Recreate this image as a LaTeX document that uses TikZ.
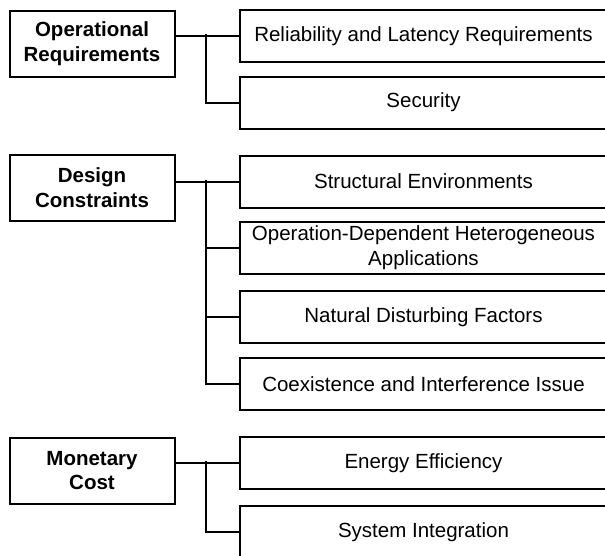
\documentclass[tikz,border=0pt]{standalone}
\usepackage{fontspec}
\setmainfont{Liberation Sans}
\begin{document}
\begin{tikzpicture}[x=1pt,y=-1pt,
  catbox/.style={draw=black,line width=2pt,minimum width=165pt,minimum height=66pt,inner sep=0pt,align=center,
    font=\fontsize{20.5}{24.5}\selectfont\bfseries},
  itembox/.style={draw=black,line width=2pt,minimum width=367pt,minimum height=52pt,inner sep=0pt,align=center,
    font=\fontsize{20.5}{25}\selectfont},
  conn/.style={line width=2pt}]
\useasboundingbox (0,0) rectangle (605,555);
\clip (0,0) rectangle (605,555);
% categories
\node[catbox] (op) at (92,43.5) {Operational\\Requirements};
\node[catbox] (dc) at (92,187.5) {Design\\Constraints};
\node[catbox] (mc) at (92,470.5) {Monetary\\Cost};
% items
\node[itembox] (r1) at (423.5,36) {Reliability and Latency Requirements};
\node[itembox] (r2) at (423.5,102.5) {Security};
\node[itembox] (d1) at (423.5,181.5) {Structural Environments};
\node[itembox] (d2) at (423.5,248) {Operation-Dependent Heterogeneous\\Applications};
\node[itembox] (d3) at (423.5,317) {Natural Disturbing Factors};
\node[itembox] (d4) at (423.5,384) {Coexistence and Interference Issue};
\node[itembox] (m1) at (423.5,463) {Energy Efficiency};
\node[itembox] (m2) at (423.5,532) {System Integration};
% junctions
\coordinate (jo) at (206,34);
\coordinate (jd) at (206,179.5);
\coordinate (jm) at (206,461);
% connectors
\draw[conn] (op.east |- r1.west) -- (r1.west);
\draw[conn] (jo) |- (r2.west);
\draw[conn] (dc.east |- d1.west) -- (d1.west);
\draw[conn] (jd) |- (d2.west);
\draw[conn] (jd) |- (d3.west);
\draw[conn] (jd) |- (d4.west);
\draw[conn] (mc.east |- m1.west) -- (m1.west);
\draw[conn] (jm) |- (m2.west);
\end{tikzpicture}
\end{document}
